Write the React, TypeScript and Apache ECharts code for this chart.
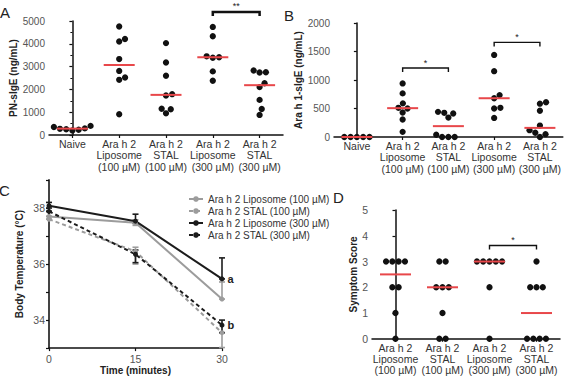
import { useEffect, useRef } from 'react';
import * as echarts from 'echarts';

// ---- group labels ----
const groupsAB = [
  'Naive',
  'Ara h 2\nLiposome\n(100 µM)',
  'Ara h 2\nSTAL\n(100 µM)',
  'Ara h 2\nLiposome\n(300 µM)',
  'Ara h 2\nSTAL\n(300 µM)',
];
const groupsD = groupsAB.slice(1);

// ---- Panel A: PN-sIgE (ng/mL), one value per mouse ----
const pnNaive = [200, 230, 250, 270, 290, 350, 400, 450];
const pnLip100 = [4760, 4100, 4210, 3330, 2810, 2520, 2420, 910];
const pnStal100 = [4030, 3180, 2600, 1790, 1730, 1150, 1130, 950];
const pnLip300 = [4740, 4330, 3450, 3410, 3390, 2790, 2380];
const pnStal300 = [2830, 2750, 2740, 2270, 2100, 1540, 1140, 880];

// ---- Panel B: Ara h 1-sIgE (ng/mL) ----
const a1Naive = [0, 0, 0, 0, 0];
const a1Lip100 = [940, 765, 590, 512, 500, 430, 307, 90];
const a1Stal100 = [441, 424, 412, 341, 40, 0, 0, 0];
const a1Lip300 = [1440, 1155, 735, 680, 512, 500, 335];
const a1Stal300 = [610, 585, 460, 200, 120, 75, 50, 0];

// ---- Panel C: body temperature (°C) over time ----
const timePoints = [0, 15, 30];
const namesC = [
  'Ara h 2 Liposome (100 µM)',
  'Ara h 2 STAL (100 µM)',
  'Ara h 2 Liposome (300 µM)',
  'Ara h 2 STAL (300 µM)',
];
const tempLip100 = [37.7, 37.47, 34.75];
const tempStal100 = [37.6, 36.45, 33.55];
const tempLip300 = [38.08, 37.53, 35.47];
const tempStal300 = [37.88, 36.35, 33.82];
// error-bar extents (low, high) at each time point
const lowLip100 = [37.7, 37.38, 34.75];
const highLip100 = [37.7, 37.58, 35.36];
const lowStal100 = [37.6, 36.0, 33.02];
const highStal100 = [37.6, 36.6, 33.55];
const lowLip300 = [38.0, 37.45, 35.47];
const highLip300 = [38.2, 37.78, 36.22];
const lowStal300 = [37.88, 36.05, 33.55];
const highStal300 = [37.88, 36.5, 34.0];
const endLetters = ['', '', 'a', 'b'];

// ---- Panel D: symptom score ----
const scLip100 = [3, 3, 3, 3, 2, 2, 1, 0];
const scStal100 = [3, 3, 2, 2, 2, 1, 0, 0];
const scLip300 = [3, 3, 3, 3, 3, 2, 0];
const scStal300 = [3, 2, 2, 2, 0, 0, 0, 0];

// ---- significance comparisons: [group1, group2, bracket height] ----
const sigA = [[3, 4, 5400]];
const sigALabels = ['**'];
const sigB = [[1, 2, 1210], [3, 4, 1660]];
const sigBLabels = ['*', '*'];
const sigD = [[2, 3, 3.62]];
const sigDLabels = ['*'];

const FONT = "'Liberation Sans', Arial, sans-serif";
const DOT = 6.3;
const GRAY = '#9c9c9c';
const BLACK = '#1c1c1c';
const RED = '#e8474a';

const grids = [
  { left: 49, top: 21, width: 234, height: 114 },
  { left: 334, top: 23, width: 229, height: 114 },
  { left: 49, top: 180, width: 173, height: 170 },
  { left: 372, top: 210, width: 188, height: 130 },
];

function median(vals: number[]) {
  const s = [...vals].sort((a, b) => a - b);
  const m = s.length >> 1;
  return s.length % 2 ? s[m] : (s[m - 1] + s[m]) / 2;
}

// simple beeswarm: ties sit in a centred row, other points take the
// free horizontal slot closest to the column centre
function swarmOffsets(vals: number[], pxPerUnit: number, dot: number): number[] {
  const order = vals.map((_, i) => i).sort((a, b) => vals[a] - vals[b]);
  const out = new Array(vals.length).fill(0);
  const placed: { x: number; y: number }[] = [];
  let k = 0;
  while (k < order.length) {
    let j = k;
    while (j + 1 < order.length && vals[order[j + 1]] === vals[order[k]]) j++;
    const n = j - k + 1;
    const y = vals[order[k]] * pxPerUnit;
    if (n > 1) {
      for (let m = 0; m < n; m++) {
        const x = (m - (n - 1) / 2) * dot;
        out[order[k + m]] = x;
        placed.push({ x, y });
      }
    } else {
      const cands = [0];
      for (const p of placed) {
        const dy = Math.abs(p.y - y);
        if (dy < dot) {
          const dx = Math.sqrt(dot * dot - dy * dy);
          cands.push(p.x + dx, p.x - dx);
        }
      }
      cands.sort((a, b) => Math.abs(a) - Math.abs(b));
      const x =
        cands.find((c) => placed.every((p) => Math.hypot(p.x - c, p.y - y) >= dot - 1e-6)) ?? 0;
      out[order[k]] = x;
      placed.push({ x, y });
    }
    k = j + 1;
  }
  return out;
}

function dotSeries(groups: number[][], xAxisIndex: number, yAxisIndex: number, pxPerUnit: number, bandPx: number) {
  const pts: number[][] = [];
  groups.forEach((g, i) => {
    const off = swarmOffsets(g, pxPerUnit, DOT);
    g.forEach((v, j) => pts.push([i + off[j] / bandPx, v]));
  });
  return [
    {
      type: 'scatter', xAxisIndex, yAxisIndex, data: pts, symbol: 'circle', symbolSize: DOT,
      itemStyle: { color: '#111', opacity: 1 }, silent: true, z: 3,
    },
    {
      type: 'scatter', xAxisIndex, yAxisIndex, data: groups.map((g, i) => [i, median(g)]),
      symbol: 'rect', symbolSize: [31, 2], itemStyle: { color: RED, opacity: 1 }, silent: true, z: 4,
    },
  ];
}

function bracketSeries(pairs: number[][], labels: string[], xAxisIndex: number, yAxisIndex: number, lineWidth: number) {
  return {
    type: 'custom', xAxisIndex, yAxisIndex, silent: true, z: 5, clip: false,
    data: pairs,
    encode: { x: [0, 1], y: 2 },
    renderItem: (params: any, api: any) => {
      const a = api.coord([api.value(0), api.value(2)]);
      const b = api.coord([api.value(1), api.value(2)]);
      return {
        type: 'group',
        children: [
          {
            type: 'polyline',
            shape: { points: [[a[0], a[1] + 4], a, b, [b[0], b[1] + 4]] },
            style: { stroke: '#111', lineWidth, fill: 'none' },
          },
          {
            type: 'text', x: (a[0] + b[0]) / 2, y: a[1] - 1,
            style: { text: labels[params.dataIndex], align: 'center', verticalAlign: 'bottom', fontSize: 9, fill: '#222', fontFamily: FONT },
          },
        ],
      };
    },
  };
}

function errorSeries(lows: number[], highs: number[], color: string) {
  return {
    type: 'custom', xAxisIndex: 4, yAxisIndex: 2, silent: true, z: 2, clip: false,
    data: timePoints.map((t, i) => [t, lows[i], highs[i]]),
    encode: { x: 0, y: [1, 2] },
    renderItem: (_p: any, api: any) => {
      const lo = api.coord([api.value(0), api.value(1)]);
      const hi = api.coord([api.value(0), api.value(2)]);
      const st = { stroke: color, lineWidth: 1.6 };
      return {
        type: 'group',
        children: [
          { type: 'line', shape: { x1: lo[0], y1: lo[1], x2: hi[0], y2: hi[1] }, style: st },
          { type: 'line', shape: { x1: lo[0] - 3, y1: lo[1], x2: lo[0] + 3, y2: lo[1] }, style: st },
          { type: 'line', shape: { x1: hi[0] - 3, y1: hi[1], x2: hi[0] + 3, y2: hi[1] }, style: st },
        ],
      };
    },
  };
}

function lineSeries(name: string, vals: number[], color: string, dashed: boolean, idx: number) {
  return {
    type: 'line', name, xAxisIndex: 4, yAxisIndex: 2, z: 3,
    symbol: 'circle', symbolSize: 5, showSymbol: true,
    itemStyle: { color, opacity: 1 },
    lineStyle: { color, width: 2, type: dashed ? [4, 3] : 'solid' },
    data: timePoints.map((t, i) => {
      const v = [t, vals[i]];
      if (i === timePoints.length - 1 && endLetters[idx]) {
        return {
          value: v,
          label: {
            show: true, formatter: endLetters[idx], position: 'right', distance: 3,
            fontWeight: 'bold', fontSize: 11, color: '#222', fontFamily: FONT,
          },
        };
      }
      return v;
    }),
  };
}

const axisLine = { show: true, lineStyle: { color: '#111', width: 1.5 } };
const axisTick = { show: true, length: 3, lineStyle: { color: '#111', width: 1.2 } };
const catLabel = { interval: 0, fontSize: 10.5, lineHeight: 11.4, color: '#333', margin: 3, fontFamily: FONT };
const valLabel = { fontSize: 10, color: '#555', margin: 4, fontFamily: FONT, formatter: (v: number) => String(v) };
const nameStyle = { fontSize: 10, fontWeight: 'bold', color: '#222', fontFamily: FONT };

export default function App() {
  const ref = useRef<HTMLDivElement>(null);
  useEffect(() => {
    if (!ref.current) return;
    const chart = echarts.init(ref.current, undefined, { renderer: 'svg' });
    const bandA = grids[0].width / groupsAB.length;
    const bandB = grids[1].width / groupsAB.length;
    const bandD = grids[3].width / groupsD.length;

    chart.setOption({
      animation: false,
      textStyle: { fontFamily: FONT },
      grid: grids.map((g) => ({ ...g, containLabel: false })),
      xAxis: [
        { gridIndex: 0, type: 'category', data: groupsAB, axisLine, axisTick: { ...axisTick, alignWithLabel: true }, axisLabel: catLabel, splitLine: { show: false } },
        { gridIndex: 0, type: 'value', min: -0.5, max: 4.5, show: false },
        { gridIndex: 1, type: 'category', data: groupsAB, axisLine, axisTick: { ...axisTick, alignWithLabel: true }, axisLabel: catLabel, splitLine: { show: false } },
        { gridIndex: 1, type: 'value', min: -0.5, max: 4.5, show: false },
        {
          gridIndex: 2, type: 'value', min: 0, max: 30, interval: 15,
          axisLine, axisTick, axisLabel: { ...valLabel, fontSize: 10.5, margin: 5 }, splitLine: { show: false },
          name: 'Time (minutes)', nameLocation: 'middle', nameGap: 15, nameTextStyle: nameStyle,
        },
        { gridIndex: 3, type: 'category', data: groupsD, axisLine, axisTick: { ...axisTick, alignWithLabel: true }, axisLabel: catLabel, splitLine: { show: false } },
        { gridIndex: 3, type: 'value', min: -0.5, max: 3.5, show: false },
      ],
      yAxis: [
        {
          gridIndex: 0, type: 'value', min: 0, max: 5000, interval: 1000,
          axisLine, axisTick, minorTick: { show: true, splitNumber: 2, length: 2, lineStyle: { color: '#111' } },
          axisLabel: valLabel, splitLine: { show: false },
          name: 'PN-sIgE (ng/mL)', nameLocation: 'middle', nameGap: 30, nameTextStyle: nameStyle,
        },
        {
          gridIndex: 1, type: 'value', min: 0, max: 2000, interval: 500,
          axisLine, axisTick, axisLabel: valLabel, splitLine: { show: false },
          name: 'Ara h 1-sIgE (ng/mL)', nameLocation: 'middle', nameGap: 25, nameTextStyle: nameStyle,
        },
        {
          gridIndex: 2, type: 'value', min: 33, max: 39, interval: 1,
          axisLine: { show: true, lineStyle: { color: '#444', width: 2 } }, axisTick,
          axisLabel: { ...valLabel, fontSize: 10.5, formatter: (v: number) => (v % 2 === 0 ? String(v) : '') },
          splitLine: { show: false },
          name: 'Body Temperature (°C)', nameLocation: 'middle', nameGap: 25, nameTextStyle: nameStyle,
        },
        {
          gridIndex: 3, type: 'value', min: 0, max: 5, interval: 1,
          axisLine, axisTick, axisLabel: { ...valLabel, fontSize: 10.5 }, splitLine: { show: false },
          name: 'Symptom Score', nameLocation: 'middle', nameGap: 14, nameTextStyle: nameStyle,
        },
      ],
      legend: {
        data: namesC, orient: 'vertical', left: 183, top: 189,
        itemWidth: 14, itemHeight: 7, itemGap: 2,
        textStyle: { fontSize: 10, color: '#333', fontFamily: FONT },
      },
      graphic: [
        { type: 'text', x: 0, y: 12.8, style: { text: 'A', fontSize: 15, fill: '#222', verticalAlign: 'middle', fontFamily: FONT } },
        { type: 'text', x: 284, y: 15, style: { text: 'B', fontSize: 15, fill: '#222', verticalAlign: 'middle', fontFamily: FONT } },
        { type: 'text', x: -1, y: 190, style: { text: 'C', fontSize: 15, fill: '#222', verticalAlign: 'middle', fontFamily: FONT } },
        { type: 'text', x: 333, y: 197.5, style: { text: 'D', fontSize: 15, fill: '#222', verticalAlign: 'middle', fontFamily: FONT } },
      ],
      series: [
        ...dotSeries([pnNaive, pnLip100, pnStal100, pnLip300, pnStal300], 1, 0, grids[0].height / 5000, bandA),
        bracketSeries(sigA, sigALabels, 1, 0, 2.5),
        ...dotSeries([a1Naive, a1Lip100, a1Stal100, a1Lip300, a1Stal300], 3, 1, grids[1].height / 2000, bandB),
        bracketSeries(sigB, sigBLabels, 3, 1, 1.4),
        errorSeries(lowLip100, highLip100, GRAY),
        errorSeries(lowStal100, highStal100, GRAY),
        errorSeries(lowLip300, highLip300, BLACK),
        errorSeries(lowStal300, highStal300, BLACK),
        lineSeries(namesC[0], tempLip100, GRAY, false, 0),
        lineSeries(namesC[1], tempStal100, GRAY, true, 1),
        lineSeries(namesC[2], tempLip300, BLACK, false, 2),
        lineSeries(namesC[3], tempStal300, BLACK, true, 3),
        ...dotSeries([scLip100, scStal100, scLip300, scStal300], 6, 3, grids[3].height / 5, bandD),
        bracketSeries(sigD, sigDLabels, 6, 3, 1.4),
      ],
    });
    return () => chart.dispose();
  }, []);

  return (
    <div
      ref={ref}
      style={{ position: 'fixed', left: 0, top: 0, width: 564, height: 376, background: '#fff' }}
    />
  );
}
